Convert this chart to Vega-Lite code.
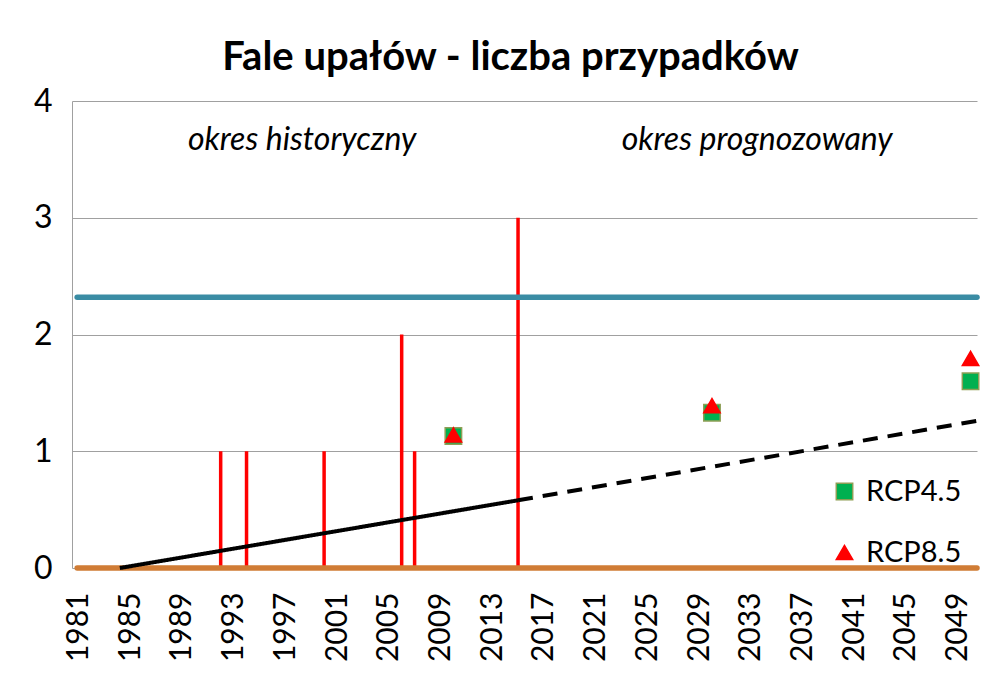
{
  "$schema": "https://vega.github.io/schema/vega-lite/v6.json",
  "autosize": {"type": "none"},
  "padding": {"left": 72, "top": 101, "right": 19, "bottom": 116},
  "width": 905,
  "height": 467,
  "background": "white",
  "config": {
    "font": "Lato",
    "view": {"stroke": null}
  },
  "title": {
    "text": "Fale upałów - liczba przypadków",
    "fontSize": 40,
    "fontWeight": "bold",
    "font": "Lato",
    "color": "#000000",
    "anchor": "middle",
    "frame": "group",
    "dx": -14,
    "offset": 7
  },
  "datasets": {
    "obs": [
      {"year": 1992, "value": 1},
      {"year": 1994, "value": 1},
      {"year": 2000, "value": 1},
      {"year": 2006, "value": 2},
      {"year": 2007, "value": 1},
      {"year": 2015, "value": 3}
    ],
    "refs": [
      {"line": "mean", "start": 1980.9, "end": 2050.5, "value": 2.32},
      {"line": "zero", "start": 1980.9, "end": 2050.5, "value": 0}
    ],
    "trend": [
      {"year": 1984.2, "value": 0, "part": "historyczny"},
      {"year": 2015, "value": 0.58, "part": "historyczny"},
      {"year": 2015, "value": 0.58, "part": "prognoza"},
      {"year": 2050.5, "value": 1.26, "part": "prognoza"}
    ],
    "scen": [
      {"year": 2010, "value": 1.13, "scenario": "RCP4.5"},
      {"year": 2030, "value": 1.33, "scenario": "RCP4.5"},
      {"year": 2050, "value": 1.6, "scenario": "RCP4.5"},
      {"year": 2010, "value": 1.14, "scenario": "RCP8.5"},
      {"year": 2030, "value": 1.39, "scenario": "RCP8.5"},
      {"year": 2050, "value": 1.795, "scenario": "RCP8.5"}
    ],
    "notes": [
      {"label": "okres historyczny", "year": 1998.3, "value": 3.67},
      {"label": "okres prognozowany", "year": 2033.5, "value": 3.67}
    ]
  },
  "encoding": {
    "x": {
      "field": "year",
      "type": "quantitative",
      "scale": {"domain": [1980.5, 2050.5], "nice": false, "zero": false},
      "axis": {
        "title": null,
        "values": [1981, 1985, 1989, 1993, 1997, 2001, 2005, 2009, 2013, 2017, 2021, 2025, 2029, 2033, 2037, 2041, 2045, 2049],
        "format": "d",
        "labelAngle": -90,
        "labelAlign": "right",
        "labelBaseline": "middle",
        "labelFontSize": 30,
        "labelColor": "#000000",
        "labelPadding": 24,
        "ticks": false,
        "domain": false,
        "grid": false,
        "labelOverlap": false,
        "labelFlush": false
      }
    },
    "y": {
      "field": "value",
      "type": "quantitative",
      "scale": {"domain": [0, 4], "nice": false},
      "axis": {
        "title": null,
        "values": [0, 1, 2, 3, 4],
        "labelFontSize": 32,
        "labelColor": "#000000",
        "labelPadding": 20,
        "ticks": false,
        "domain": true,
        "domainColor": "#A0A0A0",
        "domainWidth": 1,
        "grid": true,
        "gridColor": "#A0A0A0",
        "gridWidth": 1
      }
    }
  },
  "layer": [
    {
      "data": {"name": "obs"},
      "mark": {"type": "rule", "color": "#FF0000", "strokeWidth": 3.5},
      "encoding": {
        "y": {"datum": 0},
        "y2": {"field": "value"}
      }
    },
    {
      "data": {"name": "refs"},
      "mark": {"type": "rule", "strokeWidth": 5.5, "strokeCap": "round"},
      "encoding": {
        "x": {"field": "start", "type": "quantitative"},
        "x2": {"field": "end"},
        "y": {"field": "value", "type": "quantitative"},
        "color": {
          "field": "line",
          "type": "nominal",
          "scale": {"domain": ["mean", "zero"], "range": ["#3A8CA4", "#D07C35"]},
          "legend": null
        }
      }
    },
    {
      "data": {"name": "trend"},
      "mark": {"type": "line", "color": "#000000", "strokeWidth": 4},
      "encoding": {
        "detail": {"field": "part"},
        "strokeDash": {
          "field": "part",
          "type": "nominal",
          "scale": {"domain": ["historyczny", "prognoza"], "range": [[1, 0], [15, 10]]},
          "legend": null
        }
      }
    },
    {
      "data": {"name": "scen"},
      "mark": {"type": "point", "filled": true, "size": 270, "opacity": 1, "strokeWidth": 1.5},
      "encoding": {
        "shape": {
          "field": "scenario",
          "type": "nominal",
          "scale": {"domain": ["RCP4.5", "RCP8.5"], "range": ["square", "triangle-up"]},
          "legend": {
            "title": null,
            "orient": "none",
            "legendX": 758,
            "legendY": 376,
            "padding": 0,
            "rowPadding": 31,
            "labelFontSize": 29,
            "labelColor": "#000000",
            "labelOffset": 7,
            "symbolSize": 270,
            "symbolStrokeWidth": 1.5
          }
        },
        "fill": {
          "field": "scenario",
          "type": "nominal",
          "scale": {"domain": ["RCP4.5", "RCP8.5"], "range": ["#00B050", "#FF0000"]}
        },
        "stroke": {
          "field": "scenario",
          "type": "nominal",
          "scale": {"domain": ["RCP4.5", "RCP8.5"], "range": ["#8E9E55", "#FF0000"]}
        }
      }
    },
    {
      "data": {"name": "notes"},
      "mark": {"type": "text", "fontSize": 32, "fontStyle": "italic", "font": "Lato", "color": "#000000", "align": "center", "baseline": "middle"},
      "encoding": {"text": {"field": "label"}}
    }
  ]
}
